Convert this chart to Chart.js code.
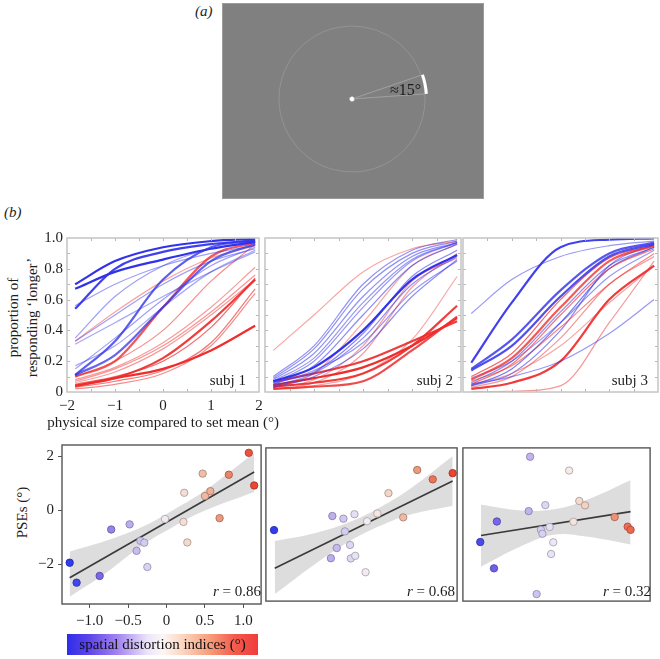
<!DOCTYPE html>
<html><head><meta charset="utf-8">
<script src="https://cdn.jsdelivr.net/npm/chart.js@4.4.0/dist/chart.umd.min.js"></script>
<style>
body{margin:0;background:#fff;width:660px;height:659px;position:relative;overflow:hidden;font-family:"Liberation Serif","DejaVu Serif",serif;color:#1e1e1e;}
.abs{position:absolute;}
canvas{display:block;}
.t{position:absolute;font-size:15px;white-space:nowrap;line-height:15px;}
.rot{position:absolute;font-size:15px;white-space:nowrap;line-height:15px;text-align:center;transform:rotate(-90deg);transform-origin:50% 50%;}
</style></head><body>

<div class="t" style="left:195px;top:4px;"><i>(a)</i></div>
<div class="abs" style="left:222px;top:3px;width:262px;height:196px;background:#808080;box-sizing:border-box;border:1px solid #9c9c9c;"></div>
<div class="abs" style="left:276px;top:23px;"><canvas id="stim" width="152" height="152"></canvas></div>
<div class="t" style="left:390px;top:82px;color:#1a1a1a;font-size:16px;">≈15°</div>

<div class="t" style="left:4px;top:205px;"><i>(b)</i></div>
<div class="rot" style="left:-37px;top:310px;width:100px;height:15px;">proportion of</div>
<div class="rot" style="left:-48px;top:310px;width:160px;height:15px;">responding ‘longer’</div>

<div class="abs" style="left:17px;top:228px;"><canvas id="c1" width="245" height="196"></canvas></div>
<div class="abs" style="left:263px;top:236px;"><canvas id="c2" width="200" height="158"></canvas></div>
<div class="abs" style="left:461px;top:236px;"><canvas id="c3" width="199" height="158"></canvas></div>
<div class="t" style="right:414px;top:373px;">subj 1</div>
<div class="t" style="right:207px;top:373px;">subj 2</div>
<div class="t" style="right:12px;top:373px;">subj 3</div>
<div class="t" style="left:43px;top:415px;width:240px;text-align:center;">physical size compared to set mean (°)</div>

<div class="rot" style="left:-18px;top:505px;width:80px;height:15px;">PSEs (°)</div>
<div class="abs" style="left:30px;top:440px;"><canvas id="p1" width="236" height="192"></canvas></div>
<div class="abs" style="left:261px;top:443px;"><canvas id="p2" width="201" height="163"></canvas></div>
<div class="abs" style="left:458px;top:443px;"><canvas id="p3" width="197" height="163"></canvas></div>
<div class="t" style="right:399px;top:584px;"><i>r</i> = 0.86</div>
<div class="t" style="right:205px;top:584px;"><i>r</i> = 0.68</div>
<div class="t" style="right:9px;top:584px;"><i>r</i> = 0.32</div>

<div class="abs" style="left:67px;top:634px;width:191px;height:21px;background:linear-gradient(to right,rgb(45,45,232) 0%,rgb(95,70,235) 12%,rgb(165,135,240) 27%,rgb(235,228,250) 42%,rgb(252,246,246) 50%,rgb(252,215,195) 60%,rgb(248,160,125) 74%,rgb(242,90,75) 88%,rgb(240,60,60) 100%);"></div>
<div class="t" style="left:67px;top:637px;width:191px;text-align:center;color:#111;">spatial distortion indices (°)</div>

<script>
// ---------- data ----------
const stimArc = [15, 345];            // target arc (deg) and the rest of the circle

const curveX = [-1.83, -1, 0, 1, 1.92];
const sizeTicks = [-2, -1, 0, 1, 2];
const propTicks = [0, 0.2, 0.4, 0.6, 0.8, 1.0];
const innerTicksX = [-1.5, -1, -0.5, 0, 0.5, 1, 1.5];
const innerTicksY = [0.1, 0.2, 0.3, 0.4, 0.5, 0.6, 0.7, 0.8, 0.9];

const subj1Curves = [
  [0.70, 0.85, 0.94, 0.98, 0.995],
  [0.67, 0.78, 0.86, 0.93, 0.975],
  [0.54, 0.80, 0.91, 0.96, 0.985],
  [0.56, 0.70, 0.82, 0.90, 0.95],
  [0.35, 0.62, 0.82, 0.93, 0.97],
  [0.31, 0.45, 0.62, 0.78, 0.91],
  [0.33, 0.50, 0.70, 0.85, 0.93],
  [0.11, 0.33, 0.73, 0.94, 0.98],
  [0.17, 0.30, 0.55, 0.78, 0.92],
  [0.15, 0.35, 0.60, 0.82, 0.94],
  [0.11, 0.24, 0.55, 0.85, 0.96],
  [0.33, 0.52, 0.72, 0.87, 0.95],
  [0.10, 0.20, 0.55, 0.88, 0.97],
  [0.10, 0.20, 0.40, 0.72, 0.96],
  [0.08, 0.16, 0.32, 0.55, 0.81],
  [0.07, 0.15, 0.30, 0.52, 0.76],
  [0.05, 0.10, 0.20, 0.42, 0.74],
  [0.04, 0.09, 0.22, 0.46, 0.73],
  [0.03, 0.07, 0.14, 0.32, 0.67],
  [0.02, 0.05, 0.12, 0.30, 0.64],
  [0.04, 0.09, 0.15, 0.27, 0.43],
  [0.06, 0.13, 0.28, 0.50, 0.73]
];
const subj1Index = [-1.2,-1.15,-1.0,-0.35,-0.35,-0.3,-0.35,-0.8,-0.3,-0.35,-0.75,0.3,0.8,0.45,0.35,0.4,0.7,1.0,0.6,0.45,1.1,0.35];

const subj2Curves = [
  [0.27, 0.50, 0.78, 0.93, 0.98],
  [0.07, 0.16, 0.40, 0.73, 0.89],
  [0.08, 0.25, 0.62, 0.88, 0.97],
  [0.06, 0.20, 0.55, 0.85, 0.97],
  [0.09, 0.28, 0.67, 0.90, 0.98],
  [0.05, 0.17, 0.50, 0.82, 0.96],
  [0.07, 0.22, 0.58, 0.86, 0.97],
  [0.10, 0.30, 0.70, 0.92, 0.99],
  [0.04, 0.12, 0.35, 0.70, 0.88],
  [0.05, 0.14, 0.32, 0.65, 0.85],
  [0.03, 0.10, 0.28, 0.62, 0.86],
  [0.06, 0.13, 0.38, 0.75, 0.92],
  [0.02, 0.06, 0.25, 0.68, 0.90],
  [0.03, 0.08, 0.30, 0.72, 0.87],
  [0.03, 0.12, 0.45, 0.82, 0.96],
  [0.02, 0.04, 0.12, 0.34, 0.75],
  [0.07, 0.12, 0.20, 0.33, 0.46],
  [0.035, 0.06, 0.12, 0.30, 0.56],
  [0.02, 0.035, 0.07, 0.27, 0.49],
  [0.045, 0.09, 0.16, 0.30, 0.48]
];
const subj2Index = [0.3,-1.2,-0.45,-0.4,-0.45,-0.5,-0.4,-0.45,-0.45,-0.4,-0.45,-0.5,0.35,0.35,0.3,0.3,1.0,1.0,0.9,1.1];

const subj3Curves = [
  [0.51, 0.73, 0.88, 0.95, 0.98],
  [0.19, 0.58, 0.94, 0.99, 0.998],
  [0.14, 0.30, 0.62, 0.88, 0.96],
  [0.15, 0.34, 0.66, 0.90, 0.97],
  [0.05, 0.10, 0.20, 0.38, 0.60],
  [0.02, 0.06, 0.20, 0.60, 0.82],
  [0.00, 0.005, 0.04, 0.45, 0.85],
  [0.10, 0.25, 0.60, 0.87, 0.95],
  [0.08, 0.22, 0.55, 0.85, 0.95],
  [0.06, 0.20, 0.52, 0.82, 0.94],
  [0.05, 0.18, 0.50, 0.80, 0.93],
  [0.09, 0.20, 0.45, 0.75, 0.92],
  [0.04, 0.15, 0.45, 0.80, 0.94],
  [0.07, 0.17, 0.42, 0.70, 0.90],
  [0.03, 0.10, 0.35, 0.70, 0.88],
  [0.05, 0.12, 0.30, 0.58, 0.82],
  [0.04, 0.12, 0.40, 0.82, 0.96]
];
const subj3Index = [-0.4,-1.0,-0.9,-0.85,-0.4,1.0,0.4,0.7,0.8,-0.5,0.6,-0.4,-0.6,0.5,0.4,0.3,-0.5];

const indexTicks = [-1, -0.5, 0, 0.5, 1];
const indexLabels = ['−1.0', '−0.5', '0', '0.5', '1.0'];
const pseTicks = [-2, 0, 2];
const pseLabels = ['−2', '0', '2'];

const pse1X = [-1.26,-1.17,-0.87,-0.72,-0.48,-0.39,-0.34,-0.29,-0.25,-0.02,0.22,0.23,0.27,0.47,0.50,0.57,0.69,0.81,1.07,1.14];
const pse1Y = [-1.95,-2.69,-2.44,-0.72,-0.53,-1.51,-1.14,-1.21,-2.11,-0.33,-0.44,0.64,-1.20,1.35,0.52,0.70,-0.30,1.31,2.12,0.91];
const fit1X = [-1.26, 1.14];
const fit1Y = [-2.51, 1.41];
const band1X = [-1.26,-0.8,-0.3,0.1,0.5,1.14];
const band1Up = [-1.54,-1.15,-0.60,0.02,0.72,2.11];
const band1Lo = [-3.21,-2.35,-1.28,-0.60,-0.02,0.67];

const pse2X = [-1.25,-0.46,-0.31,-0.16,-0.29,-0.40,-0.48,-0.22,-0.21,-0.15,-0.01,0.01,0.15,0.30,0.50,0.69,0.90,1.17];
const pse2Y = [-0.75,-0.21,-0.31,-0.14,-0.80,-1.44,-1.83,-1.32,-1.84,-1.74,-2.37,-0.41,-0.11,0.67,-0.26,1.56,1.20,1.44];
const fit2X = [-1.24, 1.17];
const fit2Y = [-2.22, 1.14];
const band2X = [-1.24,-0.7,-0.2,0.2,0.6,1.17];
const band2Up = [-1.17,-0.87,-0.41,0.15,0.85,2.10];
const band2Lo = [-3.21,-2.07,-1.13,-0.57,-0.15,0.19];

const pse3X = [-0.43,0.11,-0.22,-0.45,-0.89,0.25,0.33,0.17,0.74,0.92,0.96,-0.16,-0.28,-0.26,-0.11,-0.14,-1.12,-0.93,-0.34];
const pse3Y = [2.07,1.54,0.21,-0.02,-0.42,0.37,0.20,-0.43,-0.25,-0.62,-0.74,-0.63,-0.74,-0.89,-1.22,-1.67,-1.21,-2.22,-3.21];
const fit3X = [-1.11, 0.96];
const fit3Y = [-0.96, -0.04];
const band3X = [-1.11,-0.55,-0.1,0.34,0.96];
const band3Up = [0.22,0.0,0.05,0.40,1.17];
const band3Lo = [-2.16,-1.36,-0.93,-1.0,-1.30];

// ---------- helpers ----------
Chart.defaults.font.family = '"Liberation Serif", "DejaVu Serif", serif';
Chart.defaults.font.size = 15;
Chart.defaults.color = '#1e1e1e';

const colorStops = [[-1.3,[40,55,240]],[-0.9,[115,100,235]],[-0.5,[185,170,238]],[-0.1,[238,234,246]],[0.1,[246,236,234]],[0.4,[242,202,184]],[0.7,[236,152,124]],[1.15,[236,68,48]]];
function cmapRGB(v){
  if (v <= colorStops[0][0]) return colorStops[0][1];
  for (let i = 1; i < colorStops.length; i++) {
    const [v1, c1] = colorStops[i];
    if (v <= v1) {
      const [v0, c0] = colorStops[i-1];
      const t = (v - v0) / (v1 - v0);
      return c0.map((c, k) => Math.round(c + (c1[k] - c) * t));
    }
  }
  return colorStops[colorStops.length-1][1];
}
const fillOf = v => { const c = cmapRGB(v); return `rgb(${c[0]},${c[1]},${c[2]})`; };
const edgeOf = v => { const c = cmapRGB(v).map(x => Math.round(x*0.72)); return `rgb(${c[0]},${c[1]},${c[2]})`; };

function curveColor(idx){
  const a = Math.min(1, 0.22 + 0.78*Math.abs(idx)/1.1);
  return idx < 0 ? `rgba(50,50,235,${a.toFixed(2)})` : `rgba(238,45,45,${a.toFixed(2)})`;
}
const curveWidth = idx => Math.abs(idx) >= 0.75 ? 2.2 : 1.2;

const framePlugin = {
  id: 'frame',
  afterDatasetsDraw(chart, args, o) {
    const {ctx, chartArea: a, scales} = chart;
    ctx.save();
    if (o.inner) {
      ctx.strokeStyle = o.tickColor; ctx.lineWidth = 1;
      ctx.beginPath();
      innerTicksX.forEach(v => {
        const px = Math.round(scales.x.getPixelForValue(v)) + 0.5;
        ctx.moveTo(px, a.top); ctx.lineTo(px, a.top + 3);
        ctx.moveTo(px, a.bottom); ctx.lineTo(px, a.bottom - 3);
      });
      innerTicksY.forEach(v => {
        const py = Math.round(scales.y.getPixelForValue(v)) + 0.5;
        ctx.moveTo(a.left, py); ctx.lineTo(a.left + 3, py);
        ctx.moveTo(a.right, py); ctx.lineTo(a.right - 3, py);
      });
      ctx.stroke();
    }
    ctx.strokeStyle = o.color; ctx.lineWidth = o.width;
    ctx.strokeRect(a.left, a.top, a.right - a.left, a.bottom - a.top);
    ctx.restore();
  }
};

// fixed axis sizes (only when the axis is shown)
const fitX = h => s => { if (s.options.display) { s.height = h; s.paddingLeft = 0; s.paddingRight = 0; } };
const fitY = w => s => { if (s.options.display) { s.width = w; s.paddingTop = 0; s.paddingBottom = 0; } };

// ---------- panel (a): stimulus ----------
new Chart(document.getElementById('stim'), {
  type: 'doughnut',
  data: { datasets: [
    { data: stimArc, backgroundColor: ['#ffffff', 'rgba(0,0,0,0)'], borderWidth: 0, weight: 3 },
    { data: stimArc, backgroundColor: ['rgba(0,0,0,0)', 'rgba(0,0,0,0)'], borderColor: 'rgba(170,170,170,0.45)', borderWidth: 1, weight: 71 },
    { data: [1], backgroundColor: '#ffffff', borderWidth: 0, weight: 2.5 }
  ]},
  options: { responsive: false, animation: false, events: [], rotation: 71, cutout: 0,
    layout: { padding: 0 },
    plugins: { legend: { display: false }, tooltip: { enabled: false } } }
});

// ---------- panel (b) top: psychometric curves ----------
function curveChart(id, curves, idx, withAxes) {
  const datasets = curves.map((c, i) => ({
    data: curveX.map((x, j) => ({ x: x, y: c[j] })),
    borderColor: curveColor(idx[i]), borderWidth: curveWidth(idx[i]),
    pointRadius: 0, cubicInterpolationMode: 'monotone', fill: false
  }));
  new Chart(document.getElementById(id), {
    type: 'line',
    data: { datasets },
    options: {
      responsive: false, animation: false, events: [],
      layout: { padding: withAxes ? { top: 10, right: 3, left: 0, bottom: 0 } : 2 },
      scales: {
        x: { type: 'linear', min: -2, max: 2, display: withAxes,
          grid: { display: false, drawTicks: false }, border: { display: false },
          afterBuildTicks: s => { s.ticks = sizeTicks.map(v => ({ value: v })); },
          afterFit: fitX(32),
          ticks: { padding: 5, autoSkip: false, maxRotation: 0, callback: v => String(v).replace('-', '−') } },
        y: { type: 'linear', min: 0, max: 1, display: withAxes,
          grid: { display: false, drawTicks: false }, border: { display: false },
          afterBuildTicks: s => { s.ticks = propTicks.map(v => ({ value: v })); },
          afterFit: fitY(50),
          ticks: { padding: 4, autoSkip: false, callback: v => v === 0 ? '0' : Number(v).toFixed(1) } }
      },
      plugins: { legend: { display: false }, tooltip: { enabled: false },
        frame: { color: '#c4c4c4', width: 1.5, inner: true, tickColor: '#b8b8b8' } }
    },
    plugins: [framePlugin]
  });
}
curveChart('c1', subj1Curves, subj1Index, true);
curveChart('c2', subj2Curves, subj2Index, false);
curveChart('c3', subj3Curves, subj3Index, false);

// ---------- panel (b) bottom: PSE vs distortion ----------
function pseChart(id, xs, ys, fx, fy, bx, bu, bl, withAxes) {
  const pts = xs.map((x, i) => ({ x: x, y: ys[i] }));
  const datasets = [
    { data: pts, showLine: false, pointRadius: 3.7, pointBorderWidth: 0.9,
      pointBackgroundColor: xs.map(fillOf), pointBorderColor: xs.map(edgeOf), order: 0 },
    { data: fx.map((x, i) => ({ x: x, y: fy[i] })), showLine: true, pointRadius: 0,
      borderColor: '#3a3a3a', borderWidth: 1.6, order: 1 },
    { data: bx.map((x, i) => ({ x: x, y: bu[i] })), showLine: true, pointRadius: 0, borderWidth: 0,
      tension: 0.4, fill: '+1', backgroundColor: 'rgba(215,215,215,0.85)', order: 2 },
    { data: bx.map((x, i) => ({ x: x, y: bl[i] })), showLine: true, pointRadius: 0, borderWidth: 0,
      tension: 0.4, fill: false, order: 3 }
  ];
  new Chart(document.getElementById(id), {
    type: 'scatter',
    data: { datasets },
    options: {
      responsive: false, animation: false, events: [],
      layout: { padding: withAxes ? { top: 5, right: 3, left: 0, bottom: 0 } : 2 },
      scales: {
        x: { type: 'linear', min: -1.36, max: 1.23, display: withAxes,
          grid: { display: true, drawOnChartArea: false, drawTicks: true, tickLength: 4, color: '#555' },
          border: { display: false },
          afterBuildTicks: s => { s.ticks = indexTicks.map(v => ({ value: v })); },
          afterFit: fitX(28),
          ticks: { padding: 4, autoSkip: false, maxRotation: 0,
            callback: v => indexLabels[indexTicks.indexOf(v)] } },
        y: { type: 'linear', min: -3.48, max: 2.41, display: withAxes,
          grid: { display: true, drawOnChartArea: false, drawTicks: true, tickLength: 4, color: '#555' },
          border: { display: false },
          afterBuildTicks: s => { s.ticks = pseTicks.map(v => ({ value: v })); },
          afterFit: fitY(32),
          ticks: { padding: 4, autoSkip: false, callback: v => pseLabels[pseTicks.indexOf(v)] } }
      },
      plugins: { legend: { display: false }, tooltip: { enabled: false },
        filler: { propagate: false },
        frame: { color: '#555555', width: 1.4, inner: false } }
    },
    plugins: [framePlugin]
  });
}
pseChart('p1', pse1X, pse1Y, fit1X, fit1Y, band1X, band1Up, band1Lo, true);
pseChart('p2', pse2X, pse2Y, fit2X, fit2Y, band2X, band2Up, band2Lo, false);
pseChart('p3', pse3X, pse3Y, fit3X, fit3Y, band3X, band3Up, band3Lo, false);
</script>
</body></html>
